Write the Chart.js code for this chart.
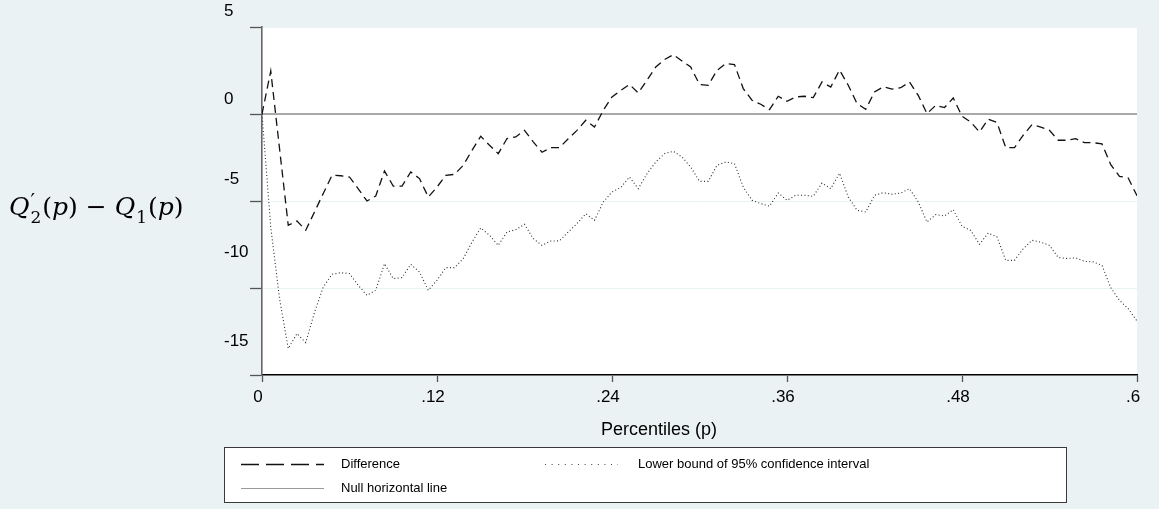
<!DOCTYPE html>
<html>
<head>
<meta charset="utf-8">
<title>Quantile difference</title>
<script src="https://cdn.jsdelivr.net/npm/chart.js@4.4.0/dist/chart.umd.min.js"></script>
<style>
  html, body { margin: 0; padding: 0; background: #EAF2F3; }
  #wrap { position: relative; width: 1159px; height: 509px; }
  canvas { display: block; }
</style>
</head>
<body>
<div id="wrap"><canvas id="chart" width="1159" height="509"></canvas></div>
<script>
// Percentile grid p (x axis)
const percentiles = [0,0.006,0.012,0.018,0.024,0.03,0.036,0.042,0.048,0.054,
  0.06,0.066,0.072,0.078,0.084,0.09,0.096,0.102,0.108,0.114,
  0.12,0.126,0.132,0.138,0.144,0.15,0.156,0.162,0.168,0.174,
  0.18,0.186,0.192,0.198,0.204,0.21,0.216,0.222,0.228,0.234,
  0.24,0.246,0.252,0.258,0.264,0.27,0.276,0.282,0.288,0.294,
  0.3,0.306,0.312,0.318,0.324,0.33,0.336,0.342,0.348,0.354,
  0.36,0.366,0.372,0.378,0.384,0.39,0.396,0.402,0.408,0.414,
  0.42,0.426,0.432,0.438,0.444,0.45,0.456,0.462,0.468,0.474,
  0.48,0.486,0.492,0.498,0.504,0.51,0.516,0.522,0.528,0.534,
  0.54,0.546,0.552,0.558,0.564,0.57,0.576,0.582,0.588,0.594,
  0.6];

// Q'2(p) - Q1(p)
const difference = [0,2.47,-1.97,-6.4,-6.15,-6.68,-5.63,-4.57,-3.52,-3.55,
  -3.62,-4.3,-5.0,-4.71,-3.28,-4.14,-4.14,-3.33,-3.71,-4.77,
  -4.2,-3.52,-3.47,-2.95,-2.09,-1.28,-1.8,-2.28,-1.41,-1.32,
  -0.94,-1.6,-2.2,-1.93,-1.93,-1.42,-0.94,-0.36,-0.75,0.21,
  0.98,1.36,1.7,1.21,1.94,2.7,3.13,3.41,3.05,2.7,
  1.7,1.65,2.51,2.9,2.84,1.46,0.79,0.56,0.25,1.02,
  0.73,0.98,1.02,0.94,1.84,1.55,2.53,1.65,0.6,0.27,
  1.27,1.56,1.43,1.51,1.84,1.07,0.02,0.5,0.37,0.92,
  -0.13,-0.46,-1.03,-0.3,-0.49,-1.93,-1.93,-1.22,-0.61,-0.75,
  -0.94,-1.51,-1.51,-1.42,-1.65,-1.65,-1.72,-2.91,-3.58,-3.68,
  -4.7];

// Lower bound of the 95% confidence interval
const lowerBound = [0,-6.5,-10.6,-13.48,-12.62,-13.14,-11.4,-9.95,-9.21,-9.12,
  -9.17,-9.85,-10.42,-10.13,-8.6,-9.46,-9.4,-8.64,-9.08,-10.13,
  -9.56,-8.83,-8.83,-8.31,-7.36,-6.55,-6.97,-7.55,-6.78,-6.65,
  -6.34,-7.16,-7.55,-7.3,-7.29,-6.78,-6.3,-5.73,-6.11,-5.06,
  -4.48,-4.23,-3.62,-4.29,-3.43,-2.76,-2.28,-2.14,-2.47,-3.05,
  -3.87,-3.87,-2.95,-2.76,-2.85,-4.2,-4.96,-5.15,-5.3,-4.54,
  -4.96,-4.67,-4.67,-4.73,-3.97,-4.29,-3.4,-4.77,-5.53,-5.63,
  -4.67,-4.52,-4.61,-4.54,-4.29,-5.06,-6.21,-5.78,-5.86,-5.5,
  -6.45,-6.69,-7.49,-6.84,-7.07,-8.41,-8.41,-7.74,-7.26,-7.36,
  -7.55,-8.25,-8.3,-8.27,-8.47,-8.5,-8.7,-9.98,-10.71,-11.19,
  -11.9];

// Null horizontal line
const nullPercentiles = [0, 0.6];
const nullValues = [0, 0];

// Axis ticks
const xTickValues = [0, 0.12, 0.24, 0.36, 0.48, 0.6];
const xTickLabels = ['0', '.12', '.24', '.36', '.48', '.6'];
const yTickValues = [5, 0, -5, -10, -15];
const yTickLabels = ['5', '0', '-5', '-10', '-15'];

const seriesNames = ['Difference', 'Lower bound of 95% confidence interval', 'Null horizontal line'];
const xTitle = 'Percentiles (p)';

const BG = '#EAF2F3';
const SANS = '"Liberation Sans", Arial, sans-serif';
const SERIF = '"DejaVu Serif", serif';

const toPoints = (xs, ys) => xs.map((x, i) => ({ x: x, y: ys[i] }));

// Figure background and white plot region
const backgroundPlugin = {
  id: 'figureBackground',
  beforeDraw(chart) {
    const { ctx, chartArea: a } = chart;
    ctx.save();
    ctx.fillStyle = BG;
    ctx.fillRect(0, 0, chart.width, chart.height);
    ctx.fillStyle = '#FFFFFF';
    ctx.fillRect(a.left, a.top, a.right - a.left, a.bottom - a.top);
    ctx.restore();
  }
};

// Y tick labels, left aligned in the margin, each nudged above its tick
const yLabelPlugin = {
  id: 'yTickText',
  afterDraw(chart, args, opts) {
    const { ctx } = chart;
    const s = chart.scales.y;
    ctx.save();
    ctx.font = '17px ' + SANS;
    ctx.fillStyle = '#000';
    ctx.textAlign = 'left';
    ctx.textBaseline = 'middle';
    yTickValues.forEach((v, i) => {
      ctx.fillText(yTickLabels[i], opts.x, s.getPixelForValue(v) - opts.lift[i]);
    });
    ctx.restore();
  }
};

// Axis titles: x title text and the y title formula
const titlePlugin = {
  id: 'axisTitles',
  afterDraw(chart, args, opts) {
    const { ctx } = chart;
    ctx.save();
    ctx.fillStyle = '#000';
    ctx.font = '18px ' + SANS;
    ctx.textAlign = 'center';
    ctx.textBaseline = 'middle';
    ctx.fillText(xTitle, opts.xTitleX, opts.xTitleY);

    // Q'_2(p) − Q_1(p)
    const big = opts.mathSize, small = Math.round(opts.mathSize * 0.66);
    const it = 'italic ' + big + 'px ' + SERIF;
    const up = big + 'px ' + SERIF;
    const sm = small + 'px ' + SERIF;
    const primeFont = Math.round(big * 0.8) + 'px ' + SERIF;
    const base = opts.mathBaseline;
    let x = opts.mathX;
    ctx.textAlign = 'left';
    ctx.textBaseline = 'alphabetic';
    const put = (font, t, dy) => { ctx.font = font; ctx.fillText(t, x, base + (dy || 0)); return ctx.measureText(t).width; };
    const stack = (sup, sub) => {
      let w1 = 0;
      if (sup) {
        ctx.font = primeFont;
        w1 = ctx.measureText(sup).width;
        ctx.fillText(sup, x + 1, base - big * 0.3);
      }
      ctx.font = sm;
      const w2 = ctx.measureText(sub).width;
      ctx.fillText(sub, x + 1, base + big * 0.3);
      x += Math.max(w1, w2 + 1) + 1;
    };
    x += put(it, 'Q');
    stack('\u2032', '2');
    x += put(up, '(');
    x += put(it, 'p');
    x += put(up, ')');
    x += put(up, ' \u2212 ');
    x += put(it, 'Q');
    stack(null, '1');
    x += put(up, '(');
    x += put(it, 'p');
    x += put(up, ')');
    ctx.restore();
  }
};

// Boxed legend in two columns below the axis title
const legendPlugin = {
  id: 'boxLegend',
  afterDraw(chart, args, opts) {
    const { ctx } = chart;
    const ds = chart.data.datasets;
    ctx.save();
    ctx.fillStyle = '#FFFFFF';
    ctx.fillRect(opts.box[0], opts.box[1], opts.box[2], opts.box[3]);
    ctx.strokeStyle = '#3a3a3a';
    ctx.lineWidth = 1;
    ctx.strokeRect(opts.box[0] + 0.5, opts.box[1] + 0.5, opts.box[2], opts.box[3]);
    opts.items.forEach((it, k) => {
      const d = ds[k];
      ctx.save();
      ctx.beginPath();
      ctx.strokeStyle = it.color || d.borderColor;
      ctx.lineWidth = it.width || d.borderWidth;
      ctx.setLineDash(it.dash);
      ctx.moveTo(it.x, it.y + 0.5);
      ctx.lineTo(it.x + it.len, it.y + 0.5);
      ctx.stroke();
      ctx.restore();
      ctx.font = '13px ' + SANS;
      ctx.fillStyle = '#000';
      ctx.textAlign = 'left';
      ctx.textBaseline = 'middle';
      ctx.fillText(d.label, it.textX, it.y);
    });
    ctx.restore();
  }
};

const chart = new Chart(document.getElementById('chart'), {
  type: 'line',
  data: {
    datasets: [
      {
        label: seriesNames[0],
        data: toPoints(percentiles, difference),
        borderColor: '#111111',
        borderWidth: 1.3,
        borderDash: [8, 5],
        pointRadius: 0,
        tension: 0,
        fill: false
      },
      {
        label: seriesNames[1],
        data: toPoints(percentiles, lowerBound),
        borderColor: '#2a2a2a',
        borderWidth: 1.1,
        borderDash: [1, 2.4],
        pointRadius: 0,
        tension: 0,
        fill: false
      },
      {
        label: seriesNames[2],
        data: toPoints(nullPercentiles, nullValues),
        borderColor: '#8f8f8f',
        borderWidth: 1.6,
        pointRadius: 0,
        tension: 0,
        fill: false
      }
    ]
  },
  options: {
    responsive: false,
    animation: false,
    devicePixelRatio: 1,
    layout: { padding: { left: 0, top: 27, right: 22, bottom: 69 } },
    plugins: {
      legend: { display: false },
      tooltip: { enabled: false },
      yTickText: { x: 224, lift: [15.3, 15, 22, 35.3, 33.3] },
      axisTitles: { xTitleX: 659, xTitleY: 430, mathX: 9, mathBaseline: 215, mathSize: 25 },
      boxLegend: {
        box: [224, 447, 842, 55],
        items: [
          { x: 241, y: 464, len: 83, textX: 341, dash: [18, 7], width: 1.3 },
          { x: 545, y: 464, len: 73, textX: 638, dash: [1, 5.6], width: 1.2, color: '#444' },
          { x: 241, y: 488, len: 83, textX: 341, dash: [], width: 1, color: '#9a9a9a' }
        ]
      }
    },
    scales: {
      x: {
        type: 'linear',
        min: 0,
        max: 0.6,
        afterBuildTicks: s => { s.ticks = xTickValues.map(v => ({ value: v })); },
        afterFit: s => { s.height = 65; },
        ticks: {
          callback: (v) => xTickLabels[xTickValues.indexOf(v)],
          font: { family: SANS, size: 17, lineHeight: 1.2 },
          color: '#000',
          padding: 5,
          labelOffset: -4,
          maxRotation: 0,
          autoSkip: false
        },
        grid: { drawOnChartArea: false, drawTicks: true, tickLength: 7, tickColor: '#555', tickWidth: 1.3 },
        border: { display: true, color: '#000', width: 1.5 }
      },
      y: {
        type: 'linear',
        min: -15,
        max: 5,
        afterBuildTicks: s => { s.ticks = yTickValues.map(v => ({ value: v })); },
        afterFit: s => { s.width = 262; },
        ticks: { display: false },
        grid: { color: BG, lineWidth: 1, drawTicks: true, tickLength: 12, tickColor: '#555', tickWidth: 1.3 },
        border: { display: true, color: '#666', width: 1.6 }
      }
    }
  },
  plugins: [backgroundPlugin, yLabelPlugin, titlePlugin, legendPlugin]
});
</script>
</body>
</html>
